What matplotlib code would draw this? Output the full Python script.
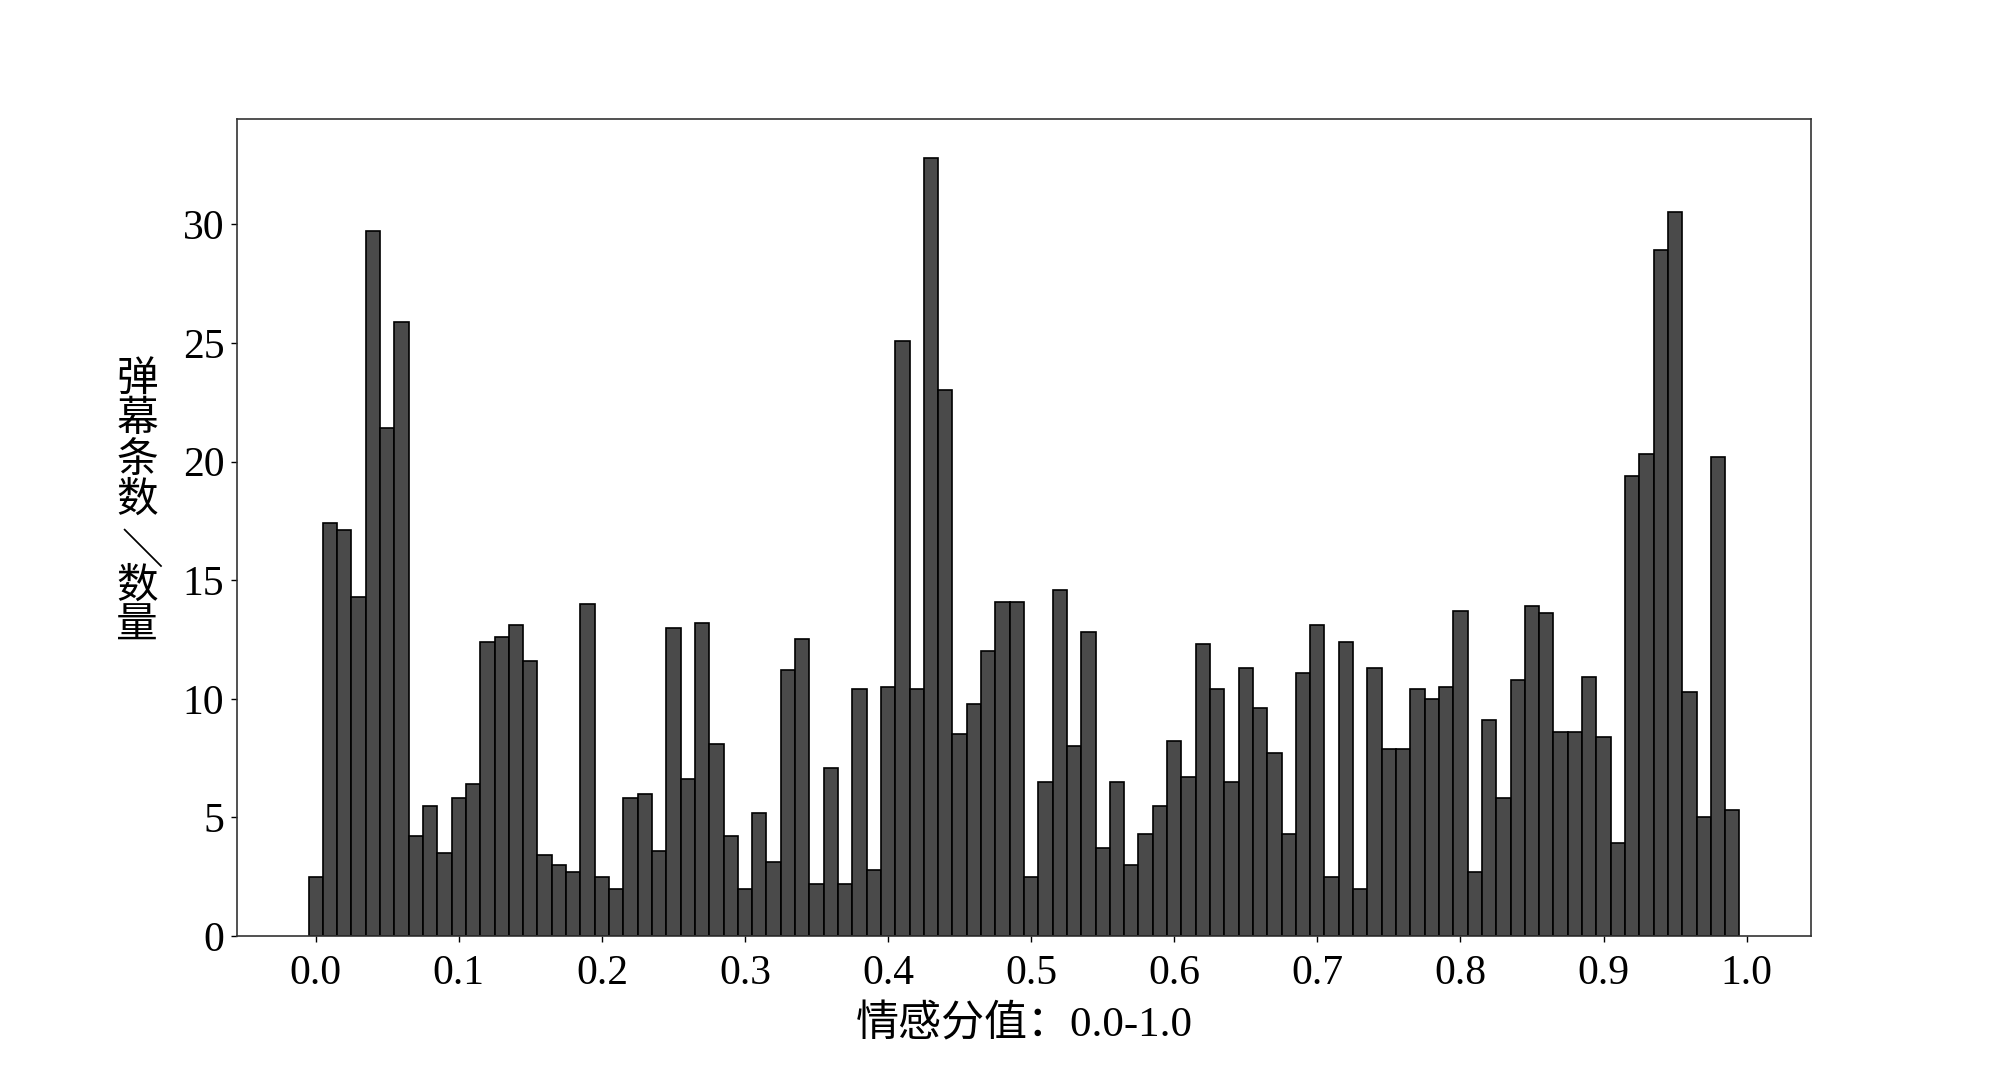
import matplotlib
matplotlib.use("Agg")
import matplotlib.pyplot as plt
import numpy as np

plt.rcParams['font.family'] = ['Liberation Serif', 'Noto Sans CJK SC']

bin_centers = [round(i * 0.01, 2) for i in range(100)]
counts = [
    2.5, 17.4, 17.1, 14.3, 29.7, 21.4, 25.9, 4.2, 5.5, 3.5,
    5.8, 6.4, 12.4, 12.6, 13.1, 11.6, 3.4, 3.0, 2.7, 14.0,
    2.5, 2.0, 5.8, 6.0, 3.6, 13.0, 6.6, 13.2, 8.1, 4.2,
    2.0, 5.2, 3.1, 11.2, 12.5, 2.2, 7.1, 2.2, 10.4, 2.8,
    10.5, 25.1, 10.4, 32.8, 23.0, 8.5, 9.8, 12.0, 14.1, 14.1,
    2.5, 6.5, 14.6, 8.0, 12.8, 3.7, 6.5, 3.0, 4.3, 5.5,
    8.2, 6.7, 12.3, 10.4, 6.5, 11.3, 9.6, 7.7, 4.3, 11.1,
    13.1, 2.5, 12.4, 2.0, 11.3, 7.9, 7.9, 10.4, 10.0, 10.5,
    13.7, 2.7, 9.1, 5.8, 10.8, 13.9, 13.6, 8.6, 8.6, 10.9,
    8.4, 3.9, 19.4, 20.3, 28.9, 30.5, 10.3, 5.0, 20.2, 5.3,
]
x_ticks = [round(i * 0.1, 1) for i in range(11)]
y_ticks = [0, 5, 10, 15, 20, 25, 30]
xlabel = "情感分值：0.0-1.0"
ylabel_top = "弹幕条数"
ylabel_sep = "／"
ylabel_bottom = "数量"

fig = plt.figure(figsize=(20, 10.75), dpi=100)
ax = fig.add_axes([0.1185, 0.1293, 0.787, 0.76])
ax.bar(bin_centers, counts, width=0.01, color="#4a4a4a",
       edgecolor="black", linewidth=1.2)
ax.set_xticks(x_ticks)
ax.set_xticklabels([f"{t:.1f}" for t in x_ticks])
ax.set_yticks(y_ticks)
ax.tick_params(axis='both', labelsize=30, length=4, width=1, pad=5)
ax.tick_params(axis='x', pad=9)
for s in ax.spines.values():
    s.set_linewidth(1.2)
    s.set_color("#333333")
ax.set_xlabel(xlabel, fontsize=31, labelpad=9)

cjk = ['Noto Sans CJK SC', 'DejaVu Sans']
fig.text(0.0685, 0.5907, "\n".join(ylabel_top), fontsize=30,
         ha='center', va='center', linespacing=0.98, family=cjk)
fig.text(0.0685, 0.4902, ylabel_sep, fontsize=30, rotation=-90,
         ha='center', va='center', family=cjk)
fig.text(0.0685, 0.4363, "\n".join(ylabel_bottom), fontsize=30,
         ha='center', va='center', linespacing=0.98, family=cjk)
fig.savefig("out.png", dpi=100, facecolor="white")
